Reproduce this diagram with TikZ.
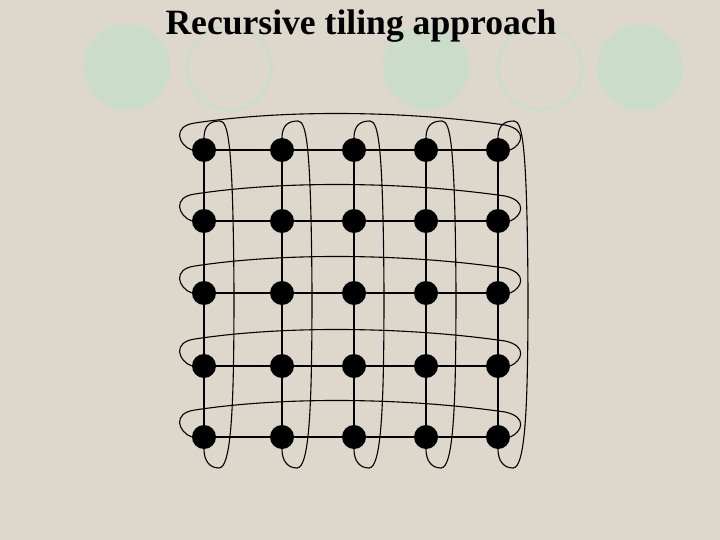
\documentclass[tikz,border=0pt]{standalone}
\usepackage{fontspec}
\setmainfont{Liberation Serif}
\definecolor{slidebg}{RGB}{222,215,204}
\definecolor{ringgreen}{RGB}{204,220,203}
\tikzset{>=stealth}
\tikzset{
  dot/.style={circle, fill=black, minimum size=24pt, inner sep=0pt},
  gridline/.style={line width=1.5pt},
  wrap/.style={line width=1.1pt},
}

\begin{document}
\begin{tikzpicture}[x=1pt, y=-1pt]
    \useasboundingbox (0,0) rectangle (720,540);
    \fill[slidebg] (0,0) rectangle (720,540);
    % rings behind the title
    \fill[ringgreen] (127,67) circle (43pt);
    \draw[ringgreen, line width=3pt] (229,68) circle (42pt);
    \fill[ringgreen] (426,67) circle (43pt);
    \draw[ringgreen, line width=3pt] (540,68) circle (42pt);
    \fill[ringgreen] (640,67) circle (43pt);
    \node[anchor=base, font=\bfseries\fontsize{35.6}{40}\selectfont] (title) at (361,35) {Recursive tiling approach};
    % the 5x5 mesh
    \foreach \r/\yy in {1/150,2/221,3/293,4/366,5/437}
      \foreach \c/\xx in {1/204,2/282,3/354,4/426,5/498}
        \node[dot] (d-\r-\c) at (\xx,\yy) {};
    \foreach \r in {1,...,5}
      \draw[gridline] (d-\r-1) -- (d-\r-5);
    \foreach \c in {1,...,5}
      \draw[gridline] (d-1-\c) -- (d-5-\c);
    % wrap-around links, rows
    \foreach \r/\yy in {1/150,2/221,3/293,4/366,5/437}
      \draw[wrap] (d-\r-1.west) .. controls (178,\yy-5) and (172,\yy-24) .. (195,\yy-27)
        .. controls (280,\yy-40) and (400,\yy-40) .. (505,\yy-25)
        .. controls (528,\yy-20) and (522,\yy-5) .. (d-\r-5.east);
    % wrap-around links, columns
    \foreach \c/\xx in {1/204,2/282,3/354,4/426,5/498}
      \draw[wrap] (d-1-\c.north) .. controls +(0,-14) and +(-8,0) .. (\xx+16,121)
        .. controls +(9,0) and (\xx+29,150) .. (\xx+30,290)
        .. controls (\xx+30,400) and (\xx+28,468) .. (\xx+15,468)
        .. controls (\xx+5,468) and (\xx,460) .. (d-5-\c.south);
\end{tikzpicture}
\end{document}
